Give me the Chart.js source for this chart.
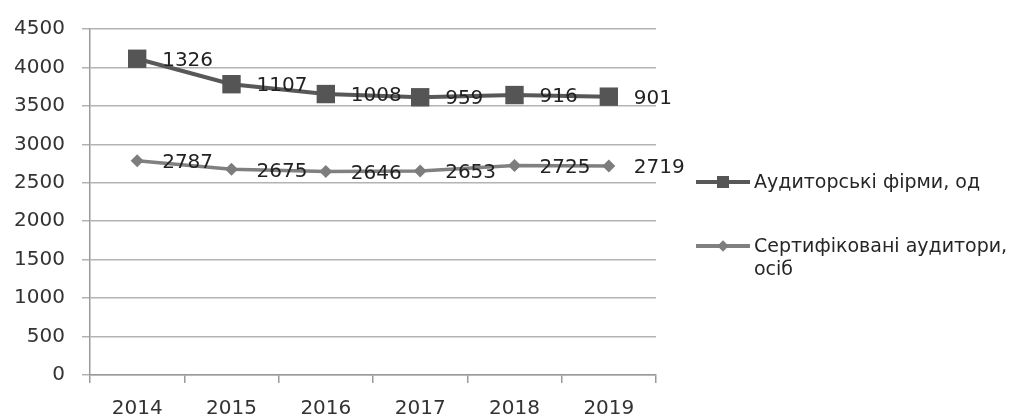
<!DOCTYPE html>
<html>
<head>
<meta charset="utf-8">
<script src="https://cdn.jsdelivr.net/npm/chart.js@4.4.0/dist/chart.umd.min.js"></script>
<style>
html, body { margin: 0; padding: 0; background: #fff; }
#wrap { position: relative; width: 1036px; height: 418px; }
#legend { position: absolute; left: 696px; top: 0; font-family: 'DejaVu Sans'; font-size: 19px; color: #262626; }
.item { position: absolute; left: 0; display: flex; align-items: flex-start; white-space: nowrap; line-height: 23px; }
.sample { position: relative; width: 54px; height: 23px; margin-right: 4px; flex: none; }
.sample .ln { position: absolute; left: 0; right: 0; top: 10px; height: 4px; }
.sample .mk { position: absolute; }
</style>
</head>
<body>
<div id="wrap">
  <canvas id="chart" width="1036" height="418"></canvas>
  <div id="legend">
    <div class="item" style="top:170px">
      <div class="sample"><div class="ln" style="background:#585858"></div><div class="mk" style="left:21px;top:6px;width:12px;height:12px;background:#555"></div></div>
      <div>Аудиторські фірми, од</div>
    </div>
    <div class="item" style="top:234px">
      <div class="sample"><div class="ln" style="background:#808080;height:3.5px"></div><div class="mk" style="left:23px;top:8px;width:8px;height:8px;background:#7d7d7d;transform:rotate(45deg)"></div></div>
      <div>Сертифіковані аудитори,<br>осіб</div>
    </div>
  </div>
</div>
<script>
const years = ['2014', '2015', '2016', '2017', '2018', '2019'];
const auditors = [2787, 2675, 2646, 2653, 2725, 2719];
const firms = [1326, 1107, 1008, 959, 916, 901];
const yTicks = [0, 500, 1000, 1500, 2000, 2500, 3000, 3500, 4000, 4500];

const FONT = 'DejaVu Sans';

// draws each point's own value to the right of the marker
const valueLabels = {
    id: 'valueLabels',
    afterDatasetsDraw(chart) {
        const ctx = chart.ctx;
        ctx.save();
        ctx.font = '20px "' + FONT + '"';
        ctx.fillStyle = '#222';
        ctx.textAlign = 'left';
        ctx.textBaseline = 'middle';
        chart.data.datasets.forEach((ds, i) => {
            chart.getDatasetMeta(i).data.forEach((pt, j) => {
                ctx.fillText(String(ds.data[j]), pt.x + 25, pt.y + 2);
            });
        });
        ctx.restore();
    }
};

new Chart(document.getElementById('chart'), {
    type: 'line',
    data: {
        labels: years,
        datasets: [{
            label: 'Сертифіковані аудитори, осіб',
            data: auditors,
            borderColor: '#808080',
            backgroundColor: '#7d7d7d',
            borderWidth: 3.5,
            pointStyle: 'rectRot',
            pointRadius: 6.5,
            pointBorderWidth: 0,
            tension: 0,
            fill: false
        }, {
            label: 'Аудиторські фірми, од',
            data: firms,
            borderColor: '#585858',
            backgroundColor: '#555',
            borderWidth: 4,
            pointStyle: 'rect',
            pointRadius: 13,
            pointBorderWidth: 0,
            tension: 0,
            fill: false
        }]
    },
    options: {
        responsive: false,
        animation: false,
        layout: { padding: { left: 0, right: 380, top: 26, bottom: 0 } },
        plugins: {
            legend: { display: false },
            tooltip: { enabled: false }
        },
        scales: {
            x: {
                offset: true,
                grid: { offset: true, drawOnChartArea: false, tickLength: 8, color: '#9a9a9a', lineWidth: 1.5 },
                border: { color: '#9a9a9a', width: 1.5 },
                ticks: { color: '#333', font: { family: FONT, size: 20 }, padding: 14 },
                afterFit: s => { s.height = 43; }
            },
            y: {
                stacked: true,
                min: 0,
                max: 4500,
                afterBuildTicks: s => { s.ticks = yTicks.map(v => ({ value: v })); },
                grid: { tickLength: 8, color: '#b3b3b3', lineWidth: 1.5 },
                border: { color: '#9a9a9a', width: 1.5 },
                ticks: { color: '#333', font: { family: FONT, size: 20 }, padding: 17, callback: v => String(v) },
                afterFit: s => { s.width = 90; }
            }
        }
    },
    plugins: [valueLabels]
});
</script>
</body>
</html>
